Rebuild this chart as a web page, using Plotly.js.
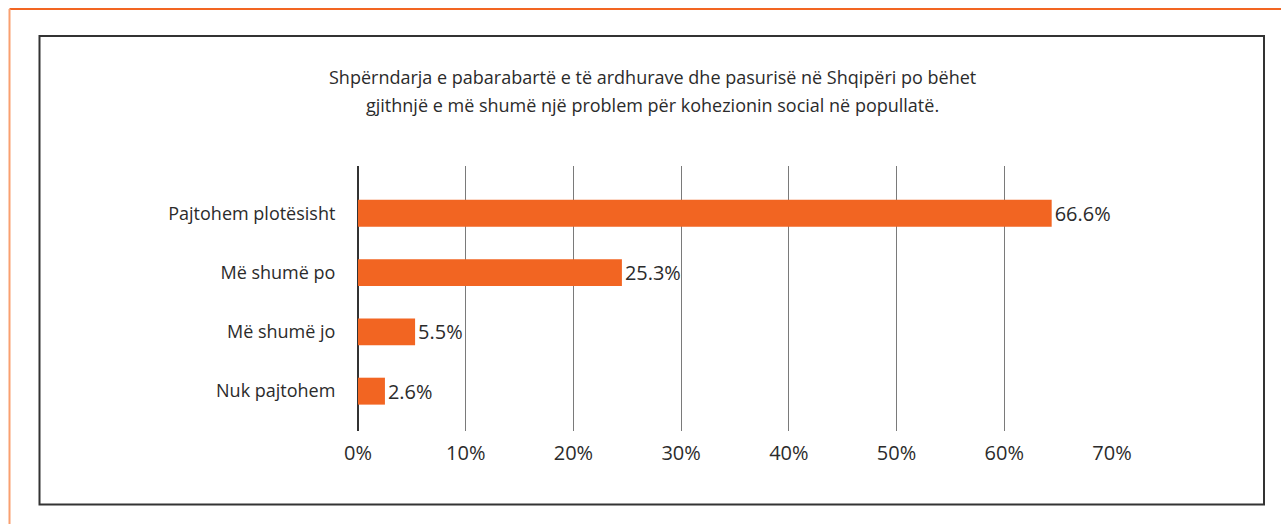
<!DOCTYPE html>
<html>
<head>
<meta charset="utf-8">
<script src="https://cdn.plot.ly/plotly-3.0.1.min.js"></script>
<style>html,body{margin:0;padding:0;background:#fff;}#chart{width:1281px;height:524px;}</style>
</head>
<body>
<div id="chart"></div>
<script>
const categories = ["Pajtohem plotësisht", "Më shumë po", "Më shumë jo", "Nuk pajtohem"];
const barValues = [64.4, 24.5, 5.3, 2.5];
const valueLabels = ["66.6%", "25.3%", "5.5%", "2.6%"];
const tickValues = [0, 10, 20, 30, 40, 50, 60, 70];
const tickLabels = ["0%", "10%", "20%", "30%", "40%", "50%", "60%", "70%"];
const titleLines = [
  "Shpërndarja e pabarabartë e të ardhurave dhe pasurisë në Shqipëri po bëhet",
  "gjithnjë e më shumë një problem për kohezionin social në popullatë."
];

const FONT = "Open Sans, Noto Sans, sans-serif";
const TEXT = "#2b2b2b";
const W = 1281, H = 524, L = 358, R = 1112, T = 166, B = 431;
const px = x => (x - L) / (R - L);
const py = y => (B - y) / (B - T);

const trace = {
  type: "bar",
  orientation: "h",
  x: barValues,
  y: categories,
  text: valueLabels,
  textposition: "outside",
  cliponaxis: false,
  textfont: {family: FONT, size: 20, color: TEXT},
  marker: {color: "#F26522"},
  hoverinfo: "none"
};

const titleY = [77, 105];

const layout = {
  width: W, height: H,
  margin: {l: L, r: W - R, t: T, b: H - B, pad: 0},
  paper_bgcolor: "#fff",
  plot_bgcolor: "#fff",
  showlegend: false,
  bargap: 0.546,
  font: {family: FONT, size: 18, color: TEXT},
  xaxis: {
    range: [0, 70],
    tickvals: tickValues,
    ticktext: tickLabels,
    showgrid: true,
    gridcolor: "#7a7a7a",
    gridwidth: 1,
    zeroline: true,
    zerolinecolor: "#333",
    zerolinewidth: 1.5,
    showline: false,
    ticks: "outside",
    ticklen: 4,
    tickcolor: "rgba(0,0,0,0)",
    tickfont: {family: FONT, size: 20, color: TEXT},
    fixedrange: true
  },
  yaxis: {
    type: "category",
    categoryorder: "array",
    categoryarray: categories,
    range: [3.672, -0.798],
    showgrid: false,
    zeroline: false,
    showline: false,
    ticks: "outside",
    ticklen: 18,
    tickcolor: "rgba(0,0,0,0)",
    tickfont: {family: FONT, size: 18, color: TEXT},
    fixedrange: true
  },
  annotations: titleLines.map((t, i) => ({
    text: t,
    xref: "paper", yref: "paper",
    x: px(652), y: py(titleY[i]),
    xanchor: "center", yanchor: "middle",
    showarrow: false,
    font: {family: FONT, size: 18, color: TEXT}
  })),
  shapes: [
    {type: "line", xref: "paper", yref: "paper", x0: px(9.5), x1: px(1281), y0: py(9), y1: py(9), line: {color: "#F26522", width: 2}},
    {type: "line", xref: "paper", yref: "paper", x0: px(9.5), x1: px(9.5), y0: py(9), y1: py(524), line: {color: "#F9A070", width: 2}},
    {type: "rect", xref: "paper", yref: "paper", x0: px(39.5), x1: px(1264), y0: py(36), y1: py(504.5), line: {color: "#333", width: 2}, fillcolor: "rgba(0,0,0,0)"}
  ]
};

Plotly.newPlot("chart", [trace], layout, {displayModeBar: false, staticPlot: true});
</script>
</body>
</html>
